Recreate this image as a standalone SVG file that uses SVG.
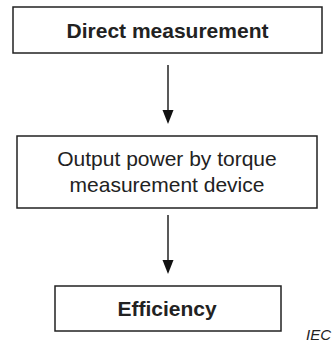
<svg xmlns="http://www.w3.org/2000/svg" width="332" height="345" viewBox="0 0 332 345">
<style>
.box{fill:#fff;stroke:#222;stroke-width:1.5}
.t{font-family:"Liberation Sans",Arial,sans-serif;font-size:21px;fill:#222;text-anchor:middle}
.b{font-weight:bold}
.line{stroke:#222;stroke-width:1.5;fill:none}
.head{fill:#111}
</style>
<rect width="332" height="345" fill="#fff"/>
<g id="direct">
<rect class="box" x="13" y="7" width="309" height="46"/>
<text class="t b" x="167.5" y="38">Direct measurement</text>
</g>
<g id="output">
<rect class="box" x="17" y="136" width="300" height="72"/>
<text class="t" x="167" y="166">Output power by torque</text>
<text class="t" x="167" y="192">measurement device</text>
</g>
<g id="efficiency">
<rect class="box" x="55" y="286" width="226" height="45"/>
<text class="t b" x="167" y="316">Efficiency</text>
</g>
<g id="connectors">
<line class="line" x1="168" y1="65" x2="168" y2="112"/>
<polygon class="head" points="162.5,110 173.5,110 168,124"/>
<line class="line" x1="168" y1="215" x2="168" y2="262"/>
<polygon class="head" points="162.5,260 173.5,260 168,274"/>
</g>
<text x="331" y="340" font-family="Liberation Sans,Arial,sans-serif" font-style="italic" font-size="15" fill="#222" text-anchor="end">IEC</text>
</svg>
